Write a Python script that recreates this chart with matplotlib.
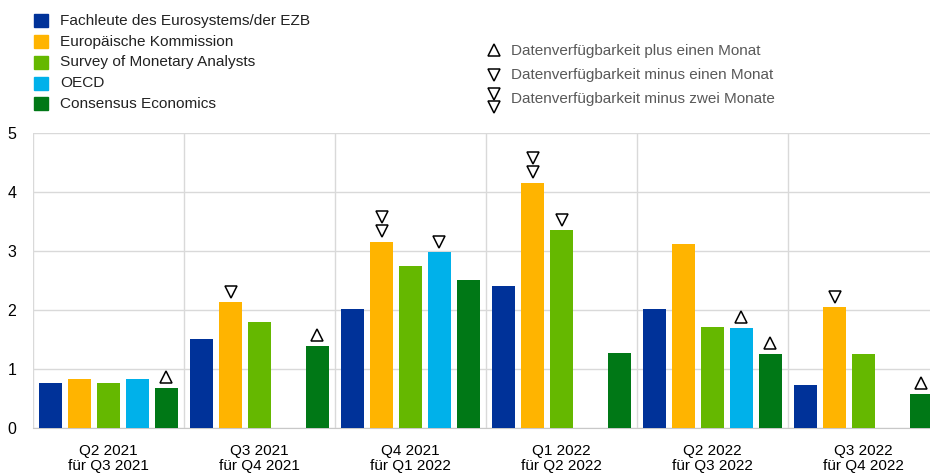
import numpy as np
import matplotlib.pyplot as plt
import matplotlib.transforms as mtransforms
from matplotlib.patches import Rectangle
from matplotlib.lines import Line2D

plt.rcParams['font.family'] = ['Liberation Sans', 'DejaVu Sans']

# data
groups = ['Q2 2021\nfür Q3 2021', 'Q3 2021\nfür Q4 2021', 'Q4 2021\nfür Q1 2022',
          'Q1 2022\nfür Q2 2022', 'Q2 2022\nfür Q3 2022', 'Q3 2022\nfür Q4 2022']
series = ['Fachleute des Eurosystems/der EZB', 'Europäische Kommission',
          'Survey of Monetary Analysts', 'OECD', 'Consensus Economics']
colors = ['#003299', '#ffb400', '#65b800', '#00b1ea', '#007816']

ezb = [0.77, 1.51, 2.01, 2.41, 2.01, 0.73]
kom = [0.83, 2.13, 3.15, 4.15, 3.12, 2.06]
sma = [0.77, 1.80, 2.75, 3.35, 1.72, 1.25]
oecd = [0.83, np.nan, 2.98, np.nan, 1.69, np.nan]
cons = [0.69, 1.39, 2.51, 1.27, 1.26, 0.58]
values = [ezb, kom, sma, oecd, cons]

# (group, series, kind) -> data availability flags
flags = [(0, 4, 'plus1'), (1, 1, 'minus1'), (1, 4, 'plus1'),
         (2, 1, 'minus2'), (2, 3, 'minus1'),
         (3, 1, 'minus2'), (3, 2, 'minus1'),
         (4, 3, 'plus1'), (4, 4, 'plus1'),
         (5, 1, 'minus1'), (5, 4, 'plus1')]
flag_labels = ['Datenverfügbarkeit plus einen Monat',
               'Datenverfügbarkeit minus einen Monat',
               'Datenverfügbarkeit minus zwei Monate']

W, H = 930, 473
fig = plt.figure(figsize=(W / 100, H / 100), dpi=100)
ax = fig.add_axes([33 / W, 44.7 / H, 906 / W, 295.6 / H])

x = np.arange(len(groups))
step = 0.192
width = 0.152
for i, (vals, col) in enumerate(zip(values, colors)):
    ax.bar(x + (i - 2) * step, vals, width, color=col, zorder=3)

# triangles above bars
tri = dict(color='white', markeredgecolor='black', markersize=9,
           markeredgewidth=1.1, linestyle='none', zorder=4, clip_on=False)
for g, s, kind in flags:
    xx = x[g] + (s - 2) * step
    v = values[s][g]
    if kind == 'plus1':
        tr = mtransforms.offset_copy(ax.transData, fig, x=0, y=11, units='dots')
        ax.plot([xx], [v], marker='^', transform=tr, **tri)
    elif kind == 'minus1':
        tr = mtransforms.offset_copy(ax.transData, fig, x=0, y=10, units='dots')
        ax.plot([xx], [v], marker='v', transform=tr, **tri)
    else:
        for dy in (11, 25):
            tr = mtransforms.offset_copy(ax.transData, fig, x=0, y=dy, units='dots')
            ax.plot([xx], [v], marker='v', transform=tr, **tri)

ax.set_xlim(-0.5, 5.5)
ax.set_ylim(0, 5)
ax.set_yticks(range(6))
ax.set_xticks(x)
ax.set_xticklabels(groups, fontsize=11, linespacing=1.1)
ax.set_xticks(np.arange(-0.5, 6, 1), minor=True)
ax.tick_params(axis='both', which='both', length=0)
ax.tick_params(axis='y', labelsize=11.5, pad=12)
ax.tick_params(axis='x', pad=11)
ax.grid(axis='y', color='#d9d9d9', lw=1, zorder=0)
ax.grid(axis='x', which='minor', color='#d9d9d9', lw=1, zorder=0)
for sp in ['top', 'right', 'left']:
    ax.spines[sp].set_visible(False)
ax.spines['bottom'].set_color('#c8c8c8')


def px(a, b):
    return a / W, 1 - b / H


# series legend
for i, (name, col) in enumerate(zip(series, colors)):
    yc = 21 + i * 20.7
    fig.patches.append(Rectangle(px(34, yc + 6.5), 14 / W, 13 / H, color=col,
                                 transform=fig.transFigure, figure=fig))
    fig.text(*px(60, yc), name, fontsize=11.1, va='center', ha='left', color='#222222')

# flag legend
rows = [50.5, 75, 99]
kinds = ['^', 'v', 'v']
for r, (yc, m, lab) in enumerate(zip(rows, kinds, flag_labels)):
    ys = [yc - 5, yc + 8] if r == 2 else [yc]
    for yy in ys:
        fig.add_artist(Line2D([494 / W], [1 - yy / H], marker=m, color='white',
                              markeredgecolor='black', markersize=9,
                              markeredgewidth=1.1, linestyle='none',
                              transform=fig.transFigure))
    fig.text(*px(511, yc), lab, fontsize=11, va='center', ha='left', color='#595959')

fig.savefig('out.png', dpi=100)
